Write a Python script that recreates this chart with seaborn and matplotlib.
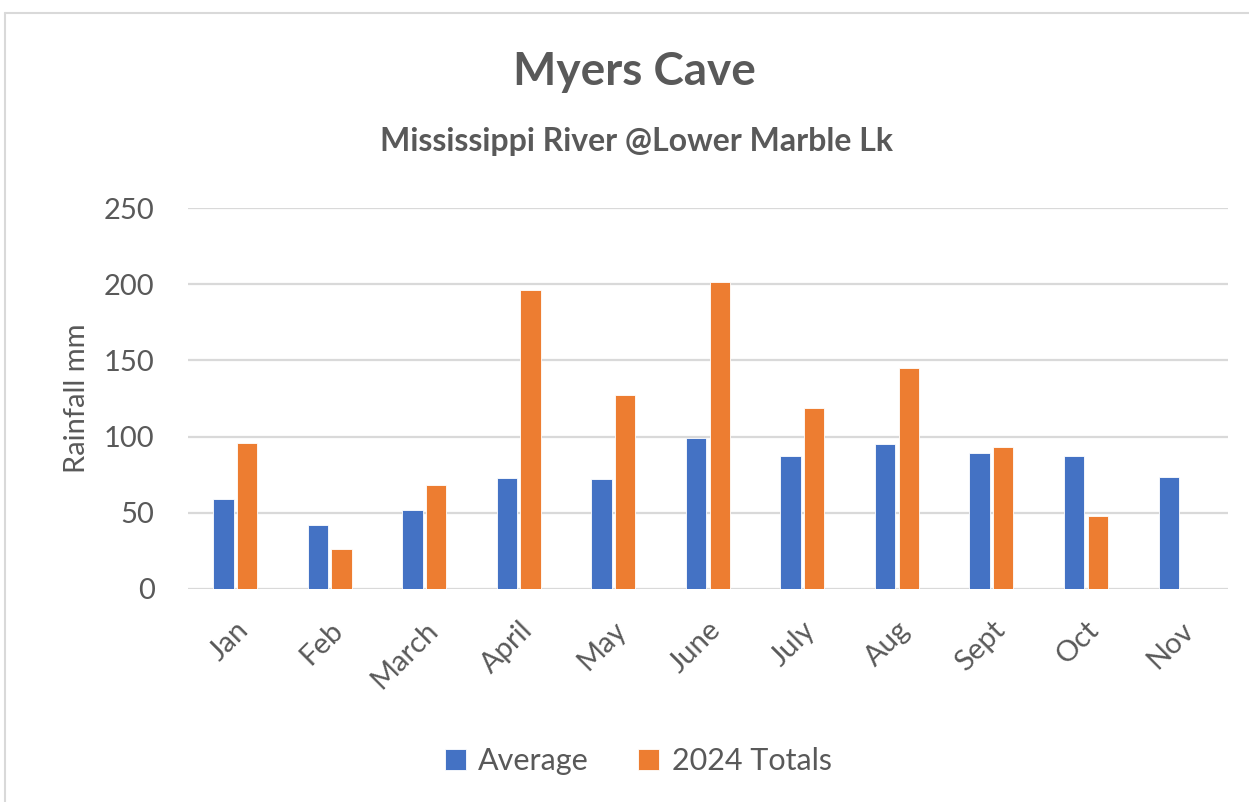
import numpy as np
import pandas as pd
import matplotlib
matplotlib.use('Agg')
import matplotlib.pyplot as plt
from matplotlib.lines import Line2D
import seaborn as sns

sns.set_style('white')
plt.rcParams['font.family'] = ['Lato', 'DejaVu Sans']

months = ['Jan', 'Feb', 'March', 'April', 'May', 'June', 'July', 'Aug', 'Sept', 'Oct', 'Nov']
average = [59, 42, 52, 73, 72.5, 99, 87.5, 95, 89.5, 87.5, 73.5]
totals_2024 = [96, 26, 68, 196, 127, 201.5, 118.5, 145, 93, 48, np.nan]
series_names = ['Average', '2024 Totals']
colors = ['#4472c4', '#ed7d31']

df = pd.DataFrame({
    'month': months * 2,
    'value': average + totals_2024,
    'series': [series_names[0]] * len(months) + [series_names[1]] * len(months),
})

grey = '#595959'
fig = plt.figure(figsize=(12.49, 8.02), dpi=100)
ax = fig.add_axes([0.1505, 0.2656, 0.8325, 0.475])

sns.barplot(data=df, x='month', y='value', hue='series', order=months,
            hue_order=series_names, palette=colors, width=0.5, gap=0.14,
            errorbar=None, saturation=1, ax=ax, edgecolor='white', linewidth=0.6)

ax.set_ylim(0, 250)
ax.set_xlim(-0.5, len(months) - 0.5)
ax.set_yticks(range(0, 251, 50))
ax.yaxis.grid(True, color='#d9d9d9', linewidth=1.6)
ax.set_axisbelow(True)
for s in ax.spines.values():
    s.set_visible(False)
ax.tick_params(axis='both', length=0, labelsize=21, labelcolor=grey)
ax.tick_params(axis='y', pad=24)
plt.setp(ax.get_xticklabels(), rotation=45, ha='right', rotation_mode='anchor')
ax.tick_params(axis='x', pad=20)
ax.set_xlabel('')
ax.set_ylabel('Rainfall mm', fontsize=21, color=grey, labelpad=10)

leg = ax.legend(loc='center', bbox_to_anchor=(0.433, -0.452), ncol=2, frameon=False,
                fontsize=22, labelcolor=grey, handlelength=0.7, handleheight=0.7,
                handletextpad=0.4, columnspacing=1.6)

fig.text(0.508, 0.91, 'Myers Cave', ha='center', va='center', fontsize=33,
         fontweight='bold', color=grey)
fig.text(0.51, 0.824, 'Mississippi River @Lower Marble Lk', ha='center', va='center',
         fontsize=23, fontweight='bold', color=grey)

# chart frame
fig.add_artist(Line2D([0.004, 1.0], [1 - 13 / 802, 1 - 13 / 802], color='#d9d9d9', linewidth=1.5))
fig.add_artist(Line2D([0.004, 0.004], [0.0, 1 - 13 / 802], color='#d9d9d9', linewidth=1.5))

fig.savefig('out.png', dpi=100)
